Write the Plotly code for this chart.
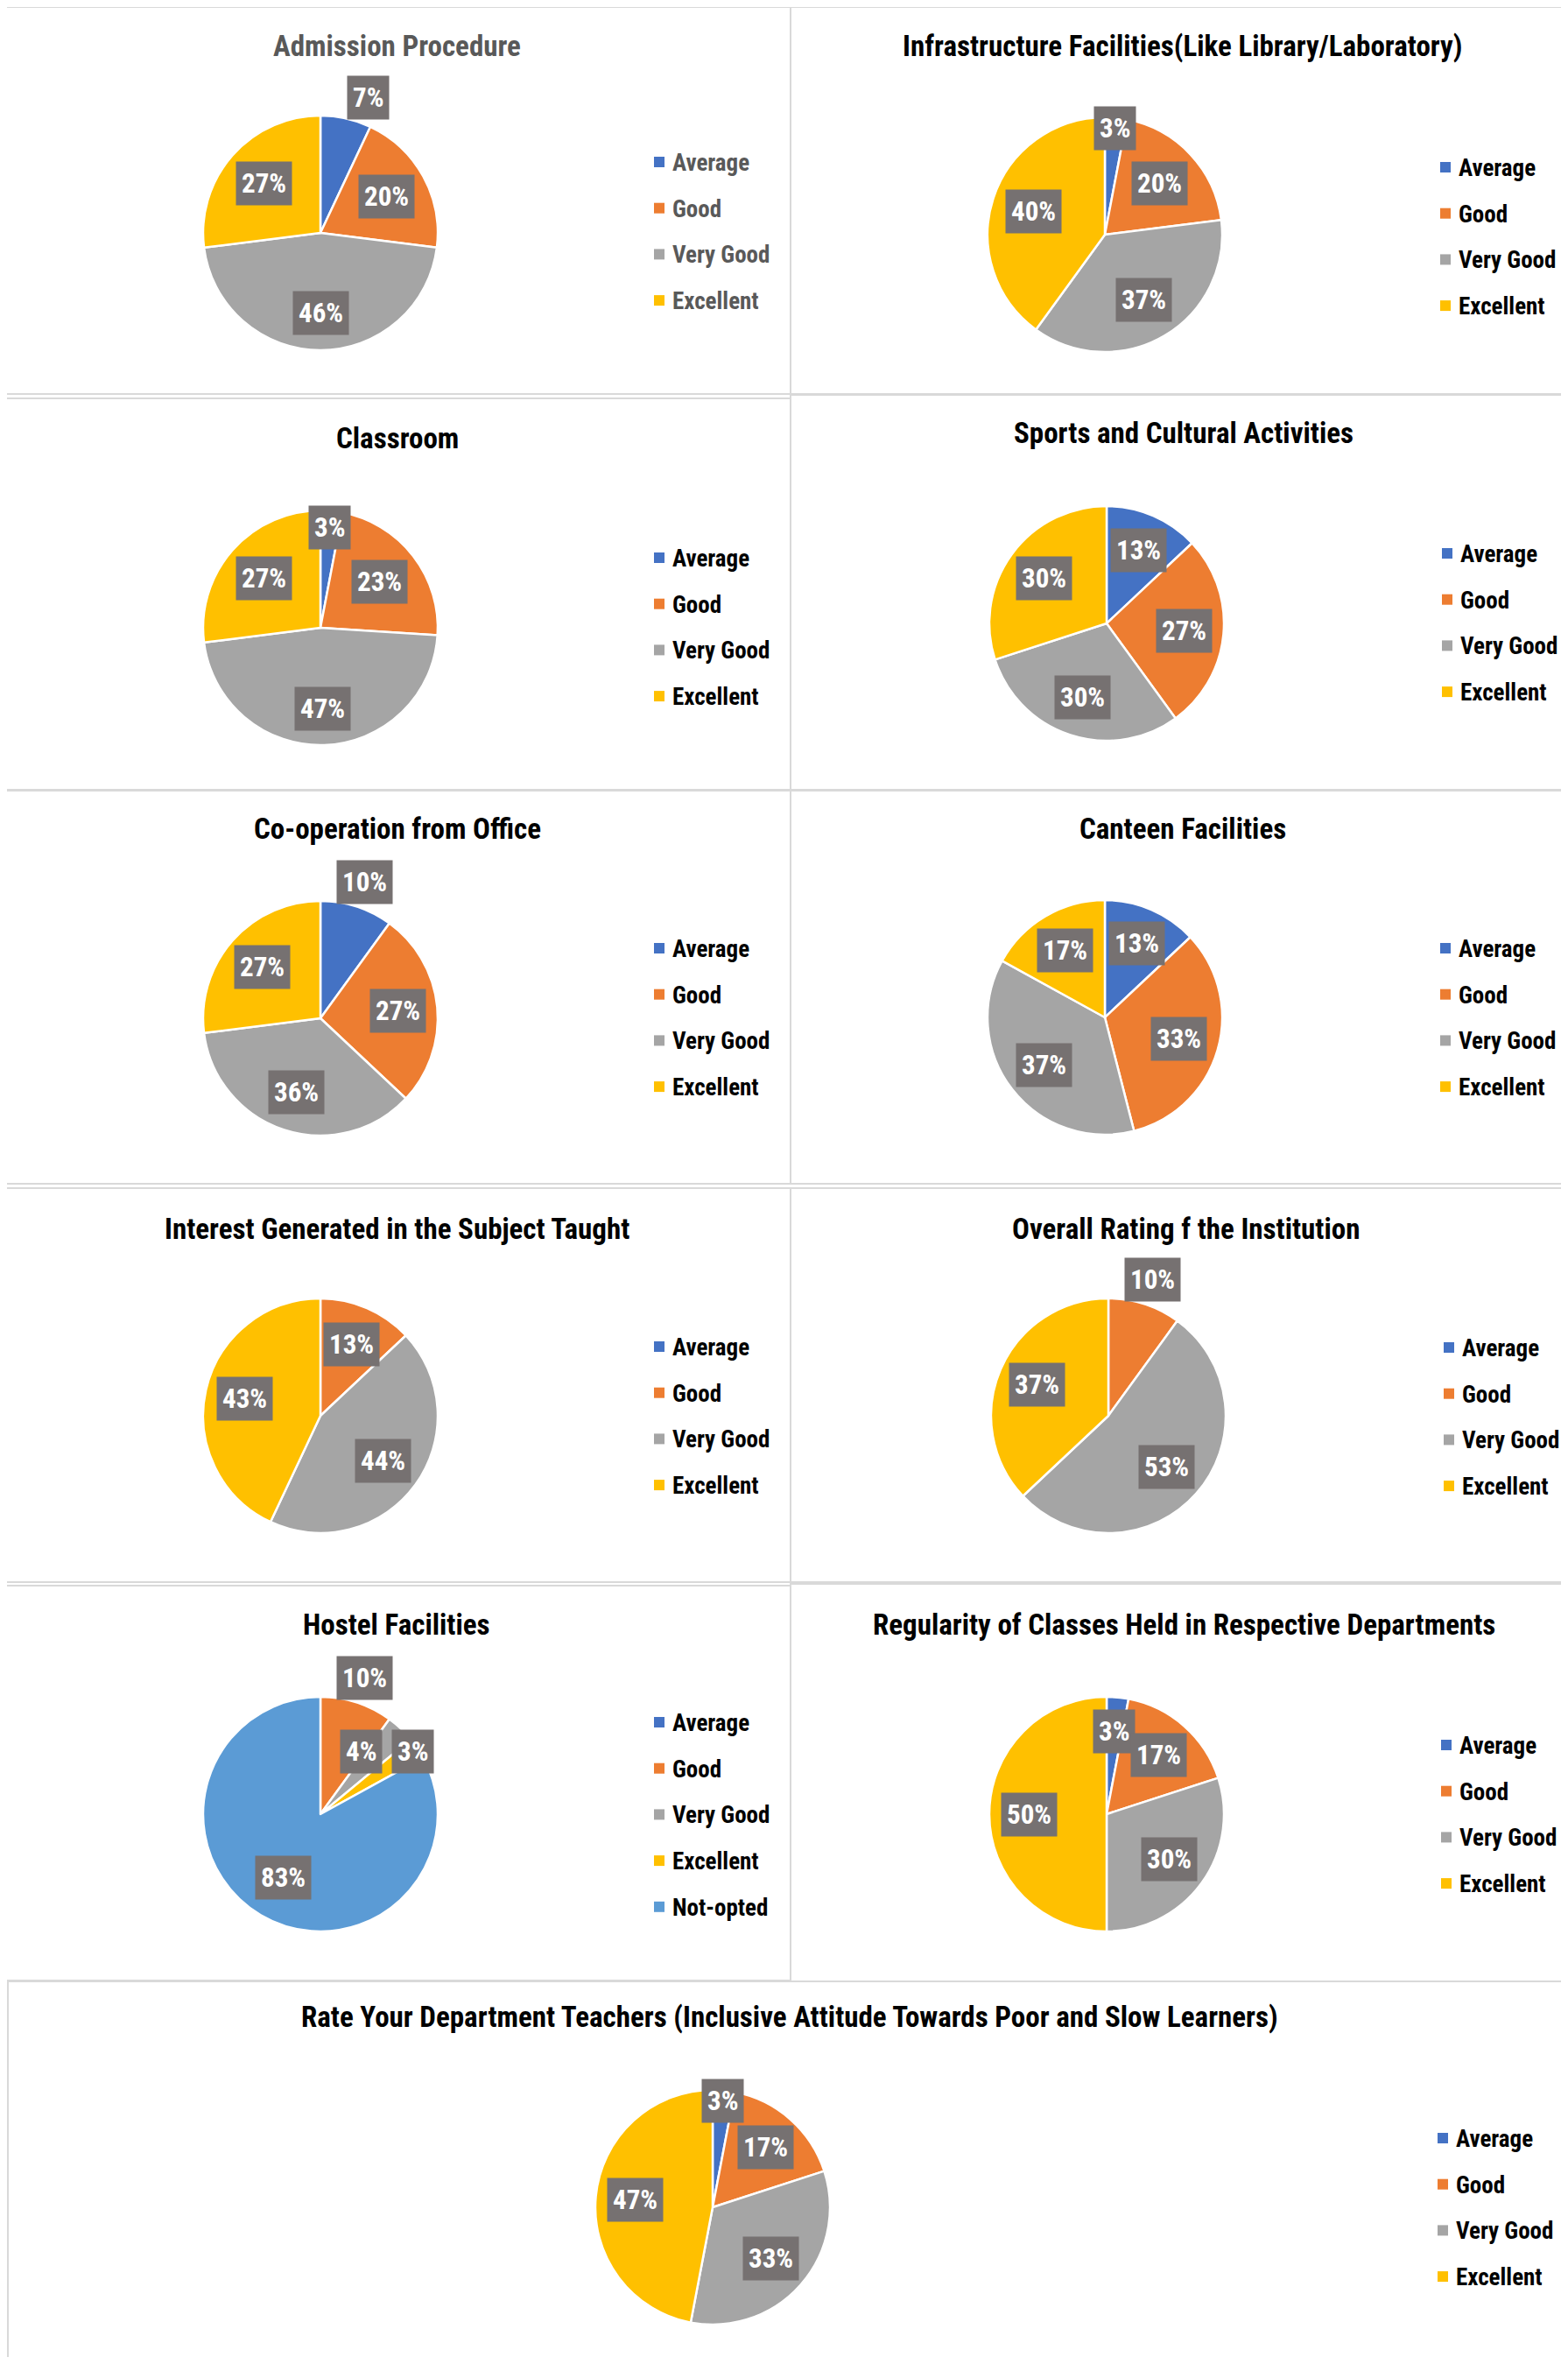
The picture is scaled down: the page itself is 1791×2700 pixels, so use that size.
import math
import plotly.graph_objects as go

# page is 1791x2700; the html body adds an 8px margin, so the figure is sized to fit inside it
PAGE_W, PAGE_H = 1791, 2700
OFF = 8
W, H = PAGE_W - 2 * OFF, PAGE_H - 2 * OFF

# ---------------- data ----------------
CATEGORIES = ["Average", "Good", "Very Good", "Excellent"]
CATEGORIES_HOSTEL = ["Average", "Good", "Very Good", "Excellent", "Not-opted"]

TITLES = [
    "Admission Procedure",
    "Infrastructure Facilities(Like Library/Laboratory)",
    "Classroom",
    "Sports and Cultural Activities",
    "Co-operation from Office",
    "Canteen Facilities",
    "Interest Generated in the Subject Taught",
    "Overall Rating f the Institution",
    "Hostel Facilities",
    "Regularity of Classes Held in Respective Departments",
    "Rate Your Department Teachers (Inclusive Attitude Towards Poor and Slow Learners)",
]

admission = [7, 20, 46, 27]
infrastructure = [3, 20, 37, 40]
classroom = [3, 23, 47, 27]
sports = [13, 27, 30, 30]
cooperation = [10, 27, 36, 27]
canteen = [13, 33, 37, 17]
interest = [0, 13, 44, 43]
overall = [0, 10, 53, 37]
hostel = [0, 10, 4, 3, 83]
regularity = [3, 17, 30, 50]
teachers = [3, 17, 33, 47]

SERIES = [admission, infrastructure, classroom, sports, cooperation, canteen,
          interest, overall, hostel, regularity, teachers]
LABELS = [CATEGORIES] * 8 + [CATEGORIES_HOSTEL] + [CATEGORIES] * 2

COLORS = {
    "Average": "#4472C4",
    "Good": "#ED7D31",
    "Very Good": "#A5A5A5",
    "Excellent": "#FFC000",
    "Not-opted": "#5B9BD5",
}

# ---------------- layout (page-pixel geometry of each panel) ----------------
FONT = "Roboto Condensed, Liberation Sans Narrow, Roboto, Liberation Sans, sans-serif"
TITLE_SIZE = 33
LEGEND_SIZE = 27
LABEL_SIZE = 31
R = 134
PANELS = [
    dict(box=(5, 8, 903, 450), c=(366, 266), t=(453, 53), leg=(747, 185), tc="#595959",
         lr=[1.22, 0.64, 0.68, 0.64], da=[7, 0, 0, 0]),
    dict(box=(903, 8, 1791, 450), c=(1262, 268), t=(1350, 53), leg=(1645, 191), tc="#000000",
         lr=[0.91, 0.64, 0.65, 0.64]),
    dict(box=(5, 455, 903, 902), c=(366, 717), t=(454, 500), leg=(747, 637), tc="#000000",
         lr=[0.86, 0.64, 0.69, 0.64]),
    dict(box=(903, 451, 1791, 902), c=(1264, 712), t=(1352, 495), leg=(1647, 632), tc="#000000",
         lr=[0.68, 0.66, 0.66, 0.66]),
    dict(box=(5, 903, 903, 1352), c=(366, 1163), t=(454, 947), leg=(747, 1083), tc="#000000",
         lr=[1.22, 0.66, 0.66, 0.66]),
    dict(box=(903, 903, 1791, 1352), c=(1262, 1162), t=(1351, 947), leg=(1645, 1083), tc="#000000",
         lr=[0.69, 0.66, 0.66, 0.66]),
    dict(box=(5, 1357, 903, 1807), c=(366, 1617), t=(454, 1403), leg=(747, 1538), tc="#000000",
         lr=[0.66, 0.66, 0.66, 0.66]),
    dict(box=(903, 1357, 1791, 1807), c=(1266, 1617), t=(1354, 1403), leg=(1649, 1539), tc="#000000",
         lr=[0.66, 1.22, 0.66, 0.66]),
    dict(box=(5, 1811, 903, 2262), c=(366, 2072), t=(453, 1855), leg=(747, 1967), tc="#000000",
         lr=[0.66, 1.22, 0.64, 0.95, 0.63], da=[0, 0, -10, 0, 0]),
    dict(box=(903, 1809, 1791, 2263), c=(1264, 2072), t=(1352, 1855), leg=(1646, 1993), tc="#000000",
         lr=[0.71, 0.67, 0.66, 0.66]),
    dict(box=(9, 2263, 1800, 2710), c=(814, 2521), t=(902, 2303), leg=(1642, 2442), tc="#000000",
         lr=[0.91, 0.68, 0.66, 0.66]),
]
LEG_STEP = 52.7


def px(x):
    return (x - OFF) / W


def py(y):
    return 1 - (y - OFF) / H


fig = go.Figure()
shapes = []
annotations = []

for i, (title, vals, labs, p) in enumerate(zip(TITLES, SERIES, LABELS, PANELS)):
    cx, cy = p["c"]
    # panel border
    x0, y0, x1, y1 = p["box"]
    shapes.append(dict(type="rect", xref="paper", yref="paper",
                       x0=px(x0), x1=px(x1), y0=py(y1), y1=py(y0),
                       line=dict(color="#D9D9D9", width=2), fillcolor="rgba(0,0,0,0)", layer="below"))
    # pie
    fig.add_trace(go.Pie(
        labels=labs, values=vals, sort=False, direction="clockwise", rotation=0,
        marker=dict(colors=[COLORS[l] for l in labs], line=dict(color="white", width=2.5)),
        textinfo="none", hoverinfo="label+percent", showlegend=False,
        domain=dict(x=[px(cx - R), px(cx + R)], y=[py(cy + R), py(cy - R)]),
    ))
    # title
    annotations.append(dict(text=title, x=px(p["t"][0]), y=py(p["t"][1]), xref="paper", yref="paper",
                            xanchor="center", yanchor="middle", showarrow=False,
                            font=dict(family=FONT, size=TITLE_SIZE, color=p["tc"], weight="bold")))
    # data labels in grey boxes, placed from the slice mid-angles
    total = float(sum(vals))
    cum = 0.0
    da = p.get("da", [0] * len(vals))
    for j, v in enumerate(vals):
        if v > 0:
            ang = math.radians(360 * (cum + v / 2) / total + da[j])
            f = p["lr"][j] * R
            lx = cx + f * math.sin(ang)
            ly = cy - f * math.cos(ang)
            annotations.append(dict(text=f"{round(100 * v / total)}%", x=px(lx), y=py(ly),
                                    xref="paper", yref="paper", xanchor="center", yanchor="middle",
                                    showarrow=False, bgcolor="#767171", borderpad=6,
                                    font=dict(family=FONT, size=LABEL_SIZE, color="white", weight="bold")))
        cum += v
    # legend
    lx0, ly0 = p["leg"]
    for k, lab in enumerate(labs):
        yy = ly0 + k * LEG_STEP
        shapes.append(dict(type="rect", xref="paper", yref="paper",
                           x0=px(lx0), x1=px(lx0 + 12), y0=py(yy + 6), y1=py(yy - 6),
                           line=dict(width=0), fillcolor=COLORS[lab]))
        annotations.append(dict(text=lab, x=px(lx0 + 19), y=py(yy + 1), xref="paper", yref="paper",
                                xanchor="left", yanchor="middle", showarrow=False,
                                font=dict(family=FONT, size=LEGEND_SIZE, color=p["tc"], weight="bold")))

fig.update_layout(
    width=W, height=H, margin=dict(l=0, r=0, t=0, b=0),
    paper_bgcolor="white", plot_bgcolor="white",
    shapes=shapes, annotations=annotations, showlegend=False,
)

fig.write_html("out.html")
